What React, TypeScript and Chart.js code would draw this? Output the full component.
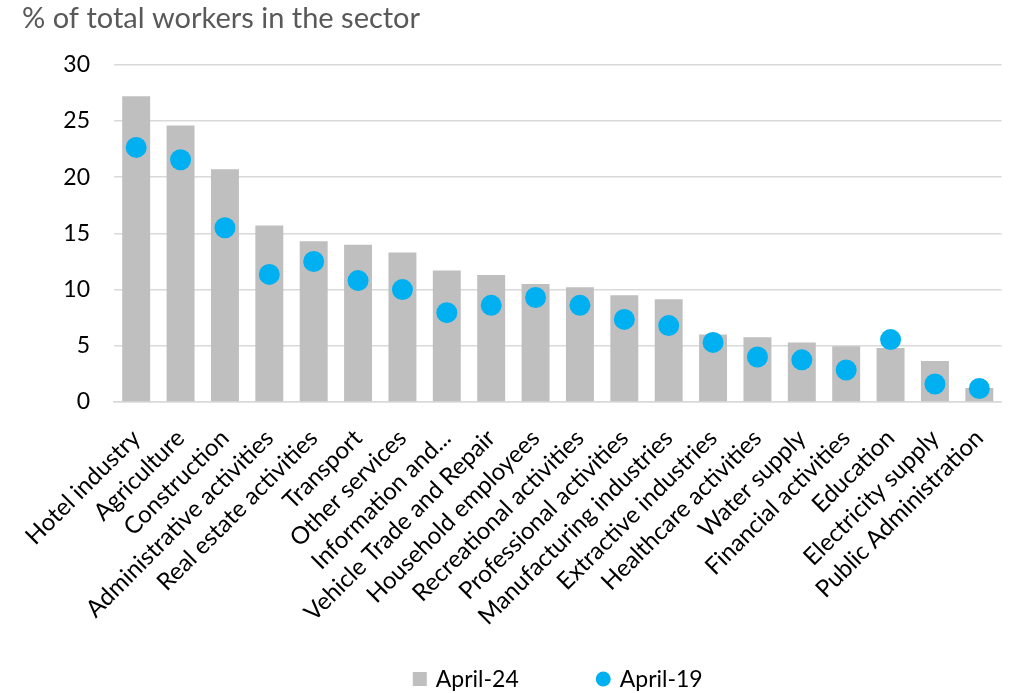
import React, { useEffect, useRef } from "react";
import { Chart, registerables } from "chart.js";

Chart.register(...registerables);

const categories = [
  "Hotel industry",
  "Agriculture",
  "Construction",
  "Administrative activities",
  "Real estate activities",
  "Transport",
  "Other services",
  "Information and...",
  "Vehicle Trade and Repair",
  "Household employees",
  "Recreational activities",
  "Professional activities",
  "Manufacturing industries",
  "Extractive industries",
  "Healthcare activities",
  "Water supply",
  "Financial activities",
  "Education",
  "Electricity supply",
  "Public Administration",
];

const april24 = [27.2, 24.6, 20.7, 15.7, 14.3, 14.0, 13.3, 11.7, 11.3, 10.5, 10.2, 9.5, 9.15, 6.0, 5.75, 5.3, 4.95, 4.8, 3.65, 1.25];
const april19 = [22.65, 21.55, 15.5, 11.35, 12.5, 10.8, 10.0, 7.95, 8.6, 9.3, 8.6, 7.35, 6.8, 5.3, 4.0, 3.75, 2.85, 5.55, 1.6, 1.2];

const yTicks = [0, 5, 10, 15, 20, 25, 30];
const seriesNames = ["April-24", "April-19"];
const seriesColors = ["#BFBFBF", "#00B0F0"];

const FONT = "Lato, 'Open Sans', sans-serif";
const FS = 23;

const layoutFix = {
  id: "layoutFix",
  afterLayout(chart: any) {
    if (chart.titleBlock) {
      chart.titleBlock.left = 22;
    }
  },
  afterDraw(chart: any) {
    const ctx = chart.ctx;
    const area = chart.chartArea;
    ctx.save();
    ctx.font = `${FS}px ${FONT}`;
    ctx.textBaseline = "middle";
    ctx.textAlign = "left";
    const w1 = ctx.measureText(seriesNames[0]).width;
    const w2 = ctx.measureText(seriesNames[1]).width;
    const sq = 14;
    const circ = 15;
    const gap = 9;
    const between = 77;
    const total = sq + gap + w1 + between + circ + gap + w2;
    let x = (area.left + area.right) / 2 - total / 2;
    const y = chart.height - 14;
    ctx.fillStyle = seriesColors[0];
    ctx.fillRect(x, y - sq / 2, sq, sq);
    x += sq + gap;
    ctx.fillStyle = "#000";
    ctx.fillText(seriesNames[0], x, y + 1);
    x += w1 + between;
    ctx.fillStyle = seriesColors[1];
    ctx.beginPath();
    ctx.arc(x + circ / 2, y, circ / 2, 0, Math.PI * 2);
    ctx.fill();
    x += circ + gap;
    ctx.fillStyle = "#000";
    ctx.fillText(seriesNames[1], x, y + 1);
    ctx.restore();
  },
};

export default function App() {
  const ref = useRef<HTMLCanvasElement | null>(null);
  useEffect(() => {
    if (!ref.current) return;
    const chart = new Chart(ref.current, {
      data: {
        labels: categories,
        datasets: [
          {
            type: "scatter" as any,
            label: seriesNames[1],
            data: april19,
            backgroundColor: seriesColors[1],
            borderColor: seriesColors[1],
            borderWidth: 0,
            pointRadius: 10.5,
            pointHoverRadius: 10.5,
            pointStyle: "circle",
            showLine: false,
            order: 0,
          } as any,
          {
            type: "bar",
            label: seriesNames[0],
            data: april24,
            backgroundColor: seriesColors[0],
            borderWidth: 0,
            barPercentage: 0.63,
            categoryPercentage: 1,
            order: 1,
          },
        ],
      },
      plugins: [layoutFix],
      options: {
        animation: false,
        responsive: false,
        maintainAspectRatio: false,
        layout: { padding: { left: 0, right: 7, top: 0, bottom: 51 } },
        plugins: {
          title: {
            display: true,
            text: "% of total workers in the sector",
            align: "start",
            color: "#595959",
            font: { family: FONT, size: 29, weight: "normal" },
            padding: { top: 1, bottom: 29 },
          },
          legend: { display: false },
          tooltip: { enabled: false },
        },
        scales: {
          x: {
            type: "category",
            offset: true,
            grid: { display: false, drawTicks: false },
            border: { display: true, color: "#D9D9D9", width: 1.5 },
            ticks: {
              color: "#000",
              font: { family: FONT, size: 24 },
              maxRotation: 45,
              minRotation: 45,
              autoSkip: false,
              padding: 22,
              labelOffset: 0,
            },
            afterFit: (s: any) => {
              s.height = 240;
              s.paddingLeft = 0;
              s.paddingRight = 0;
            },
          },
          y: {
            min: 0,
            max: 30,
            afterBuildTicks: (s: any) => {
              s.ticks = yTicks.map((v) => ({ value: v }));
            },
            grid: { color: "#D9D9D9", lineWidth: 1.5, drawTicks: false },
            border: { display: false },
            ticks: {
              color: "#000",
              font: { family: FONT, size: FS },
              padding: 24,
            },
            afterFit: (s: any) => {
              s.width = 114;
            },
          },
        },
      },
    } as any);
    return () => chart.destroy();
  }, []);
  return (
    <div style={{ position: "fixed", left: 0, top: 0, width: 1012, height: 693, background: "#fff" }}>
      <canvas ref={ref} width={1012} height={693} style={{ width: 1012, height: 693 }} />
    </div>
  );
}
